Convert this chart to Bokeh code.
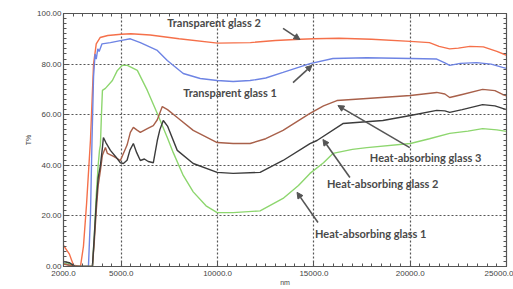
from bokeh.plotting import figure
from bokeh.models import (LinearAxis, FixedTicker, NumeralTickFormatter, Arrow, NormalHead,
                          ColumnDataSource, Range1d)
from bokeh.core.properties import value
from bokeh.embed import file_html
from bokeh.resources import INLINE

# ---------------- data ----------------
tg2_x = [2000, 2300, 2518, 2881, 3036, 3200, 3400, 3560, 3700, 3900, 4300, 5000, 5500, 6500, 8000,
         10000, 11700, 13000, 14300, 15000, 16300, 18000, 20000, 21000, 21500, 22050, 22500, 23100,
         23800, 24500, 25000]
tg2_y = [8.3, 5, 0.5, 0, 8, 25, 50, 80, 88, 90.5, 91.3, 91.8, 92, 91.5, 90,
         88.3, 88.5, 89.3, 89.8, 90, 90.2, 89.8, 89, 88.5, 87, 86, 86.3, 87,
         86.8, 85, 83.5]

tg1_x = [2000, 2300, 2600, 3295, 3400, 3480, 3560, 3640, 3700, 3780, 3850, 4000, 4435, 4953, 5471,
         5989, 6870, 7388, 8217, 9098, 9979, 10808, 11689, 12500, 13398, 14797, 15989, 17750,
         20010, 21377, 21800, 22050, 22600, 23449, 24200, 24796, 25000]
tg1_y = [1.5, 0.5, 0, 0, 20, 50, 75, 84, 82, 86, 85, 88, 88.5, 89.3, 90,
         88.5, 85.4, 81.4, 76.3, 74.3, 73.5, 73.1, 73.5, 74.5, 76.7, 80.2, 82.2, 82.5,
         82.2, 82, 80.5, 79.5, 80.3, 80.6, 80, 78.7, 78.3]

ha1_x = [2000, 2200, 2500, 3502, 3600, 3700, 3800, 3870, 3917, 3970, 4021, 4176, 4539, 4798, 5057,
         5316, 5834, 6352, 6870, 7388, 7699, 8217, 8735, 9400, 9979, 10808, 12207, 13398, 14200,
         14797, 15500, 15989, 17000, 17750, 20010, 21000, 22050, 23000, 23760, 24500, 25000]
ha1_y = [1, 1.5, 0, 0, 12, 28, 40, 46, 48, 60, 69.6, 70.4, 73.5, 77.5, 79.5,
         79.5, 77.5, 69.6, 60.5, 51, 45, 36, 29.5, 24, 21.3, 21.3, 22, 26.9, 32,
         36.8, 41, 44.7, 46.3, 47, 48.6, 50.5, 52.6, 53.5, 54.5, 54, 53.4]

ha2_x = [2000, 2300, 2600, 3400, 3502, 3600, 3700, 3800, 3917, 4021, 4072, 4200, 4435, 4700, 4953,
         5109, 5300, 5450, 5627, 5800, 5989, 6200, 6400, 6663, 6870, 7000, 7181, 7400, 7906, 8735,
         9979, 10808, 12207, 13398, 14797, 15160, 16507, 18579, 20010, 21377, 21800, 22050, 22700,
         23760, 24400, 24796, 25000]
ha2_y = [2, 1.5, 0, 0, 0, 12, 25, 35, 40, 47, 51, 49, 45.9, 43.5, 41,
         40.7, 42, 46, 48.6, 45, 41.9, 42.5, 41.5, 41, 49.8, 54, 57.7, 55.5, 45.9, 40.7,
         37.2, 36.8, 37.2, 41.9, 48.6, 49.8, 56.5, 57.7, 59.7, 61.7, 61.5, 60.9, 62,
         64, 63.5, 62.5, 62]

ha3_x = [2000, 2300, 2600, 3400, 3502, 3600, 3700, 3800, 3917, 4021, 4176, 4280, 4600, 4953, 5300,
         5471, 5627, 5800, 5989, 6352, 6663, 6870, 7129, 7400, 7906, 8735, 9979, 10808, 11689,
         12500, 13398, 14797, 15500, 16196, 17750, 20010, 21377, 21800, 22050, 22700, 23760,
         24400, 24796, 25000]
ha3_y = [1, 0.5, 0, 0, 0, 10, 22, 32, 38, 44, 47, 44.7, 43.5, 41.9, 48,
         53, 55, 54, 53, 54.5, 55.7, 58, 63.2, 62, 58.9, 53.8, 49, 48.6, 48.6,
         50.5, 53.8, 60.5, 63.5, 65.6, 66.4, 67.6, 68.8, 68.2, 66.8, 68, 70,
         69.5, 68, 67.5]

series_names = ["Transparent glass 2", "Transparent glass 1", "Heat-absorbing glass 3",
                "Heat-absorbing glass 2", "Heat-absorbing glass 1"]

# annotation text positions (left edge, middle) and arrows (tail -> head)
label_x = [7388, 8217, 17906, 15678, 15056]
label_y = [96.4, 68.8, 43.1, 32.8, 13.0]
arrow_x0 = [13398, 13916, 19978, 16870, 15212]
arrow_y0 = [94.1, 72.7, 47.0, 35.2, 17.4]
arrow_x1 = [14279, 14900, 16248, 15470, 14124]
arrow_y1 = [89.7, 79.5, 63.6, 50.2, 29.3]

x_ticks = [2000, 5000, 10000, 15000, 20000, 25000]
y_ticks = [0, 20, 40, 60, 80, 100]

# ---------------- figure ----------------
p = figure(width=513, height=289, output_backend="svg", toolbar_location=None,
           x_range=Range1d(2000, 25000), y_range=Range1d(0, 100),
           min_border_left=63, min_border_right=7, min_border_top=13, min_border_bottom=23,
           background_fill_color="white", border_fill_color="white")
p.outline_line_color = "#555555"
p.outline_line_width = 1.2

minor_x = list(range(2000, 25001, 500))
minor_y = list(range(0, 101, 2))

xa = p.xaxis[0]
ya = p.yaxis[0]
xa.ticker = FixedTicker(ticks=x_ticks, minor_ticks=minor_x)
xa.formatter = NumeralTickFormatter(format="0.0")
xa.axis_label = "nm"
ya.ticker = FixedTicker(ticks=y_ticks, minor_ticks=minor_y)
ya.formatter = NumeralTickFormatter(format="0.00")
ya.axis_label = "T%"

right = LinearAxis(ticker=FixedTicker(ticks=[], minor_ticks=minor_y))
top = LinearAxis(ticker=FixedTicker(ticks=[], minor_ticks=minor_x))
for ax in (right, top):
    ax.major_label_standoff = 0
p.add_layout(right, "right")
p.add_layout(top, "above")

for ax in (xa, ya, right, top):
    ax.axis_line_color = "#555555"
    ax.major_tick_in = 5
    ax.major_tick_out = 0
    ax.minor_tick_in = 3
    ax.minor_tick_out = 0
    ax.major_tick_line_color = "#555555"
    ax.minor_tick_line_color = "#555555"
    ax.major_label_text_font = "Liberation Sans"
    ax.major_label_text_color = "#444444"
    ax.major_label_text_font_size = "8px"
    ax.axis_label_text_font = "Liberation Sans"
    ax.axis_label_text_font_style = "normal"
    ax.axis_label_text_font_size = "7px"
    ax.axis_label_text_color = "#444444"

xa.major_label_standoff = 4
xa.axis_label_standoff = 0
ya.major_label_standoff = 2
ya.axis_label_standoff = 2

p.grid.grid_line_color = "#444444"
p.grid.grid_line_dash = "2 2"
p.grid.grid_line_width = 1.2
p.grid.grid_line_alpha = 0.9
p.xgrid.ticker = FixedTicker(ticks=x_ticks)
p.ygrid.ticker = FixedTicker(ticks=y_ticks)

lw = 1.4
p.line(tg2_x, tg2_y, line_color="#F5704A", line_width=lw)
p.line(tg1_x, tg1_y, line_color="#6E84E4", line_width=lw)
p.line(ha1_x, ha1_y, line_color="#8DD66E", line_width=lw)
p.line(ha3_x, ha3_y, line_color="#A8604A", line_width=lw)
p.line(ha2_x, ha2_y, line_color="#3C3C3C", line_width=lw)

src = ColumnDataSource(dict(x=label_x, y=label_y, t=series_names))
p.text(x="x", y="y", text="t", source=src, text_font=value("Lato"), text_font_style="bold",
       text_font_size="11px", text_color="#4A4A4A", text_align="left", text_baseline="middle")

asrc = ColumnDataSource(dict(x0=arrow_x0, y0=arrow_y0, x1=arrow_x1, y1=arrow_y1))
p.add_layout(Arrow(x_start="x0", y_start="y0", x_end="x1", y_end="y1", source=asrc,
                   line_color="#555555", line_width=1.6,
                   end=NormalHead(size=6, fill_color="#555555", line_color="#555555")))

open("out.html", "w").write(file_html(p, INLINE))
